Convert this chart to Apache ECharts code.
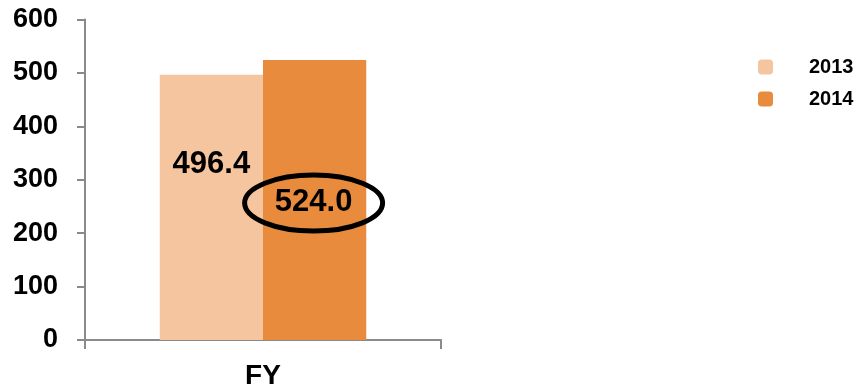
<!DOCTYPE html>
<html><head><meta charset="utf-8">
<script src="https://cdn.jsdelivr.net/npm/echarts@6/dist/echarts.min.js"></script>
<style>html,body{margin:0;padding:0;background:#fff}#c{width:857px;height:387px}</style>
</head><body><div id="c"></div>
<script>
var categories = ['FY'];
var seriesNames = ['2013', '2014'];
var values2013 = [496.4];
var values2014 = [524.0];
var yTicks = [0, 100, 200, 300, 400, 500, 600];

var FONT = '"Liberation Sans", Arial, sans-serif';
var chart = echarts.init(document.getElementById('c'), null, {renderer: 'canvas'});
var axisGray = '#8a8a8a';
chart.setOption({
  animation: false,
  grid: {left: 85, right: 416, top: 19.5, bottom: 47, containLabel: false, outerBoundsMode: 'none'},
  legend: {
    orient: 'vertical', left: 753, top: 52, itemWidth: 15, itemHeight: 15, itemGap: 12,
    icon: 'roundRect',
    data: seriesNames,
    textStyle: {fontFamily: FONT, fontWeight: 'bold', fontSize: 20, color: '#000', padding: [0, 0, 0, 31]}
  },
  xAxis: {
    type: 'category', data: categories,
    axisLine: {lineStyle: {color: axisGray, width: 2}},
    axisTick: {show: true, length: 9, lineStyle: {color: axisGray, width: 2}},
    axisLabel: {fontFamily: FONT, fontWeight: 'bold', fontSize: 28, color: '#000', margin: 22}
  },
  yAxis: {
    type: 'value', min: yTicks[0], max: yTicks[yTicks.length - 1], interval: 100,
    splitLine: {show: false},
    axisLine: {show: true, lineStyle: {color: axisGray, width: 2}},
    axisTick: {show: true, length: 8, lineStyle: {color: axisGray, width: 2}},
    axisLabel: {fontFamily: FONT, fontWeight: 'bold', fontSize: 27, color: '#000', margin: 27}
  },
  series: [
    {name: seriesNames[0], type: 'bar', data: values2013, barGap: '0%', barCategoryGap: '42%',
     itemStyle: {color: '#F4C59E'},
     label: {show: true, position: 'inside', offset: [0, -43], formatter: function (p) { return p.value.toFixed(1); },
             fontFamily: FONT, fontWeight: 'bold', fontSize: 31, color: '#000'}},
    {name: seriesNames[1], type: 'bar', data: values2014, barGap: '0%', barCategoryGap: '42%',
     itemStyle: {color: '#E88B3D'},
     label: {show: true, position: 'inside', offset: [-1, 2], formatter: function (p) { return p.value.toFixed(1); },
             fontFamily: FONT, fontWeight: 'bold', fontSize: 31, color: '#000'}}
  ]
});

// Ellipse annotation around the 2014 value label, placed from the library's bar layout
var barLayout = chart.getModel().getSeriesByIndex(1).getData().getItemLayout(0);
var barTop = Math.min(barLayout.y, barLayout.y + barLayout.height);
var ellCx = barLayout.x + barLayout.width / 2 - 1;
var ellCy = barTop + Math.abs(barLayout.height) / 2 + 3;
chart.setOption({
  graphic: [{
    type: 'ellipse', z: 100,
    shape: {cx: ellCx, cy: ellCy, rx: 69, ry: 28},
    style: {fill: 'none', stroke: '#000', lineWidth: 5}
  }]
});
</script></body></html>
